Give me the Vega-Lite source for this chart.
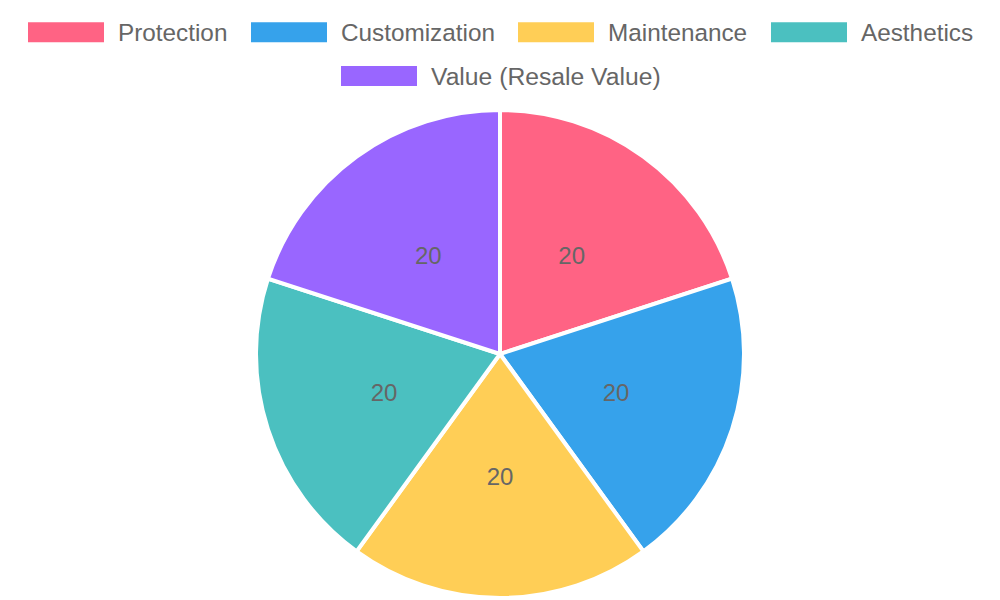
{
  "$schema": "https://vega.github.io/schema/vega-lite/v6.json",
  "width": 1000,
  "height": 492,
  "padding": {"top": 108, "left": 0, "right": 0, "bottom": 0},
  "autosize": {"type": "none"},
  "data": {
    "values": [
      {"category": "Protection", "value": 20, "order": 1},
      {"category": "Customization", "value": 20, "order": 2},
      {"category": "Maintenance", "value": 20, "order": 3},
      {"category": "Aesthetics", "value": 20, "order": 4},
      {"category": "Value (Resale Value)", "value": 20, "order": 5}
    ]
  },
  "transform": [
    {"stack": "value", "groupby": [], "sort": [{"field": "order", "order": "ascending"}], "as": ["start", "end"]}
  ],
  "layer": [
    {
      "transform": [{"filter": "datum.category !== 'Value (Resale Value)'"}],
      "mark": {"type": "arc", "outerRadius": 244, "stroke": "white", "strokeWidth": 4},
      "encoding": {
        "theta": {"field": "start", "type": "quantitative", "scale": {"domain": [0, 100]}},
        "theta2": {"field": "end"},
        "color": {
          "field": "category",
          "type": "nominal",
          "scale": {"domain": ["Protection", "Customization", "Maintenance", "Aesthetics"], "range": ["#FF6384", "#36A2EB", "#FFCE56", "#4BC0C0"]},
          "legend": {"orient": "none", "direction": "horizontal", "legendX": 28, "legendY": -112, "labelFontSize": 24.3}
        }
      }
    },
    {
      "transform": [{"filter": "datum.category === 'Value (Resale Value)'"}],
      "mark": {"type": "arc", "outerRadius": 244, "stroke": "white", "strokeWidth": 4},
      "encoding": {
        "theta": {"field": "start", "type": "quantitative", "scale": {"domain": [0, 100]}},
        "theta2": {"field": "end"},
        "color": {
          "field": "category",
          "type": "nominal",
          "scale": {"domain": ["Value (Resale Value)"], "range": ["#9966FF"]},
          "legend": {"orient": "none", "direction": "horizontal", "legendX": 341, "legendY": -68, "labelFontSize": 24.7}
        }
      }
    },
    {
      "mark": {"type": "text", "radius": 122, "dy": 2, "font": "Liberation Sans", "fontSize": 24, "color": "#666666", "align": "center", "baseline": "middle"},
      "encoding": {
        "theta": {"field": "value", "type": "quantitative", "stack": true},
        "order": {"field": "order", "type": "quantitative"},
        "text": {"field": "value", "type": "quantitative"}
      }
    }
  ],
  "resolve": {"scale": {"color": "independent"}, "legend": {"color": "independent"}},
  "config": {
    "view": {"stroke": null},
    "legend": {
      "title": null,
      "symbolType": "M-1,-0.316H1V0.21H-1Z",
      "symbolSize": 5776,
      "symbolStrokeWidth": 0,
      "symbolOpacity": 1,
      "labelFont": "Liberation Sans",
      "labelColor": "#666666",
      "labelOffset": 14,
      "labelBaseline": "middle",
      "columnPadding": 23,
      "labelLimit": 500,
      "padding": 0
    }
  }
}
